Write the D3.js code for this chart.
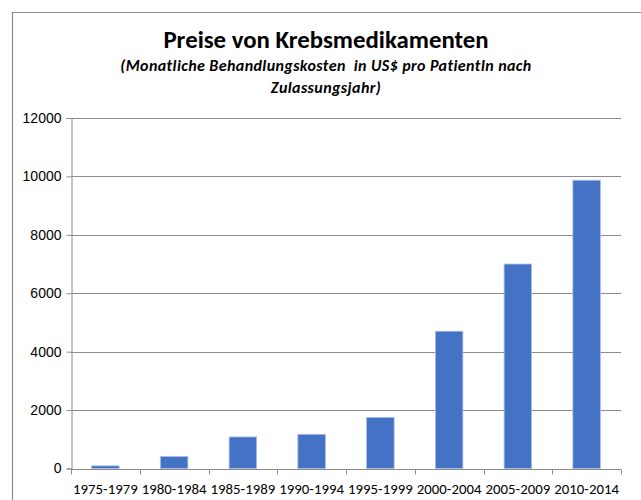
<!DOCTYPE html>
<html>

<head>
    <meta charset="UTF-8">
    <style>
        body { margin: 0; background: #fff; }
        svg { display: block; font-family: Calibri, Carlito, Lato, sans-serif; }
    </style>
</head>

<body>
    <svg></svg>
    <script src="https://d3js.org/d3.v7.min.js"></script>

    <script>

        let width = 641, height = 500;

        // Data
        let periods = ["1975-1979", "1980-1984", "1985-1989", "1990-1994", "1995-1999", "2000-2004", "2005-2009", "2010-2014"];
        let costs = [90, 410, 1080, 1170, 1750, 4700, 7000, 9870];
        let yTicks = [0, 2000, 4000, 6000, 8000, 10000, 12000];

        let margin = { left: 71, right: 20, top: 118, bottom: 32 };

        let svg = d3.select("svg")
            .attr("width", width)
            .attr("height", height)

        // chart frame (only left and top edge visible)
        svg.append("path")
            .attr("d", "M12.5," + height + "V12.5H" + width)
            .attr("fill", "none")
            .attr("stroke", "#8c8c8c")
            .attr("stroke-width", 1.2)

        let x = d3.scaleBand()
            .domain(periods)
            .range([margin.left, 621])
            .paddingInner(0.6)
            .paddingOuter(0.3)

        let y = d3.scaleLinear()
            .domain([0, 12000])
            .range([468.5, margin.top])

        // gridlines
        svg.append("g")
            .selectAll("line")
            .data(yTicks.slice(1))
            .enter()
            .append("line")
            .attr("x1", margin.left)
            .attr("x2", 621)
            .attr("y1", d => Math.round(y(d)) + 0.5)
            .attr("y2", d => Math.round(y(d)) + 0.5)
            .attr("stroke", "#8c8c8c")

        // bars
        svg.append("g")
            .selectAll("rect")
            .data(costs)
            .enter()
            .append("rect")
            .attr("x", (d, i) => x(periods[i]))
            .attr("width", x.bandwidth())
            .attr("y", d => y(d))
            .attr("height", d => y(0) - y(d))
            .attr("fill", "#4472c4")
            .attr("stroke", "#a9bfe6")
            .attr("stroke-width", 0.8)

        // y axis
        let yAxis = svg.append("g")
            .attr("transform", "translate(" + (margin.left + 0.5) + ",0)")
            .call(d3.axisLeft(y).tickValues(yTicks).tickSize(5).tickPadding(5).tickFormat(d3.format("d")))
        yAxis.select(".domain").attr("stroke", "#8c8c8c")
        yAxis.selectAll(".tick line").attr("stroke", "#8c8c8c")
        yAxis.selectAll("text").attr("font-size", 14).attr("fill", "#000").style("font-family", "inherit")

        // x axis with ticks at category boundaries
        let xAxis = svg.append("g")
            .attr("transform", "translate(0," + (Math.round(y(0)) + 0.5) + ")")
        xAxis.append("line")
            .attr("x1", margin.left)
            .attr("x2", 621)
            .attr("stroke", "#8c8c8c")
        let step = (621 - margin.left) / periods.length
        xAxis.selectAll(".tk")
            .data(d3.range(periods.length + 1))
            .enter()
            .append("line")
            .attr("x1", i => Math.round(margin.left + i * step) + 0.5)
            .attr("x2", i => Math.round(margin.left + i * step) + 0.5)
            .attr("y2", 5)
            .attr("stroke", "#8c8c8c")
        xAxis.selectAll("text")
            .data(periods)
            .enter()
            .append("text")
            .attr("x", d => x(d) + x.bandwidth() / 2)
            .attr("y", 24)
            .attr("text-anchor", "middle")
            .attr("font-size", 14.8)
            .text(d => d)

        // titles
        svg.append("text")
            .attr("x", 326)
            .attr("y", 48)
            .attr("text-anchor", "middle")
            .attr("font-size", 24.8)
            .attr("font-weight", "bold")
            .text("Preise von Krebsmedikamenten")

        let sub = svg.append("text")
            .attr("text-anchor", "middle")
            .attr("font-size", 16)
            .attr("letter-spacing", 0.4)
            .attr("font-weight", "bold")
            .attr("font-style", "italic")
            .style("white-space", "pre")
        sub.append("tspan").attr("x", 326).attr("y", 71).text("(Monatliche Behandlungskosten  in US$ pro PatientIn nach")
        sub.append("tspan").attr("x", 326).attr("y", 93).text("Zulassungsjahr)")

    </script>
</body>

</html>
